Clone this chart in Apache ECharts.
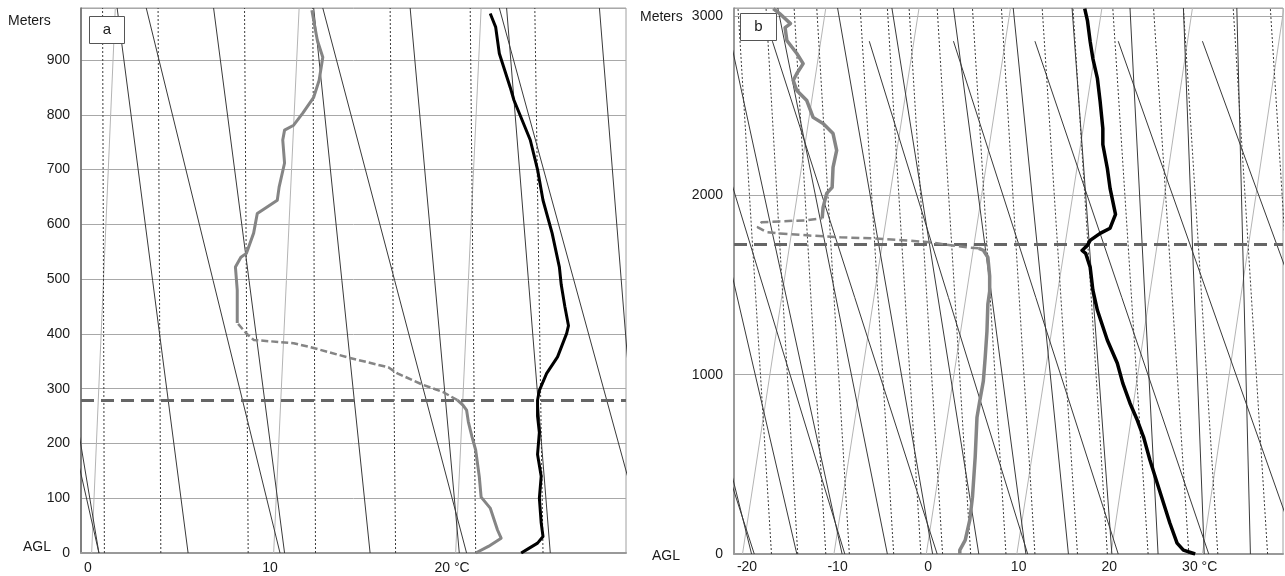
<!DOCTYPE html>
<html><head><meta charset="utf-8">
<script src="https://cdn.jsdelivr.net/npm/echarts@6/dist/echarts.min.js"></script>
<style>html,body{margin:0;padding:0;background:#fff}#c{width:1285px;height:576px}</style>
</head><body><div id="c"></div>
<script>
// ---------- tick labels ----------
const aXTicks = [0, 10, 20];
const aYTicks = [0, 100, 200, 300, 400, 500, 600, 700, 800, 900];
const bXTicks = [-20, -10, 0, 10, 20, 30];
const bYTicks = [0, 1000, 2000, 3000];

// ---------- panel a background lines (T at 0 m, T at top) ----------
const aTopH = 995;
const aIsoBottom = [0.2, 10.2, 20.2];
const aIsoTop = [1.5, 11.6, 21.6];
const aDryBottom = [0.6, 10.55, 20.8, 30.8];
const aDryTop = [-6.2, 3.2, 12.9, 22.6];
const aMoistBottom = [0.6, 5.5, 10.8, 15.5, 20.4, 25.4, 30.5];
const aMoistTop = [-4.4, 1.6, 6.9, 12.4, 17.7, 23.0, 28.1];
const aMixBottom = [0.9, 4.0, 8.8, 12.5, 16.9, 21.3, 25.0];
const aMixTop = [0.8, 3.85, 8.6, 12.35, 16.6, 21.0, 24.55];
const aInversion = 279;

// ---------- panel a profiles [T, height] ----------
const aTemp = [[23.8,0],[24.2,8],[24.7,18],[25.0,30],[24.9,55],[24.8,100],[24.9,140],[24.7,180],[24.8,220],[24.7,250],[24.7,279],[24.8,297],[25.2,328],[25.8,358],[26.3,401],[26.4,415],[26.2,450],[26.0,490],[25.9,522],[25.5,584],[25.0,644],[24.7,700],[24.3,754],[23.4,827],[23.2,850],[22.6,912],[22.4,960],[22.1,985]];
const aDewLow = [[21.3,0],[22.0,12],[22.7,27],[22.5,42],[22.1,82],[21.6,102],[21.5,139],[21.3,188],[21.1,212],[20.9,239],[20.8,261],[20.6,270],[20.3,279]];
const aDewMid = [[20.3,279],[19.5,294],[18.4,307],[17.0,328],[16.5,339],[14.4,356],[12.2,376],[11.3,383],[9.1,389],[8.7,401],[8.2,420]];
const aDewHigh = [[8.2,420],[8.2,480],[8.1,522],[8.4,540],[8.7,547],[9.1,584],[9.3,620],[9.8,631],[10.4,644],[10.5,668],[10.8,712],[10.7,754],[10.8,772],[11.3,781],[11.8,803],[12.4,832],[12.7,863],[12.9,905],[12.6,936],[12.5,954],[12.3,991]];

// ---------- panel b background lines ----------
const bTopH = 3045;
const bDryTopH = 2860;
const bIsoBottom = [-20.5, -10.4, -0.2, 9.8, 20.2, 30.3];
const bIsoTop = [-11.3, -1.0, 9.1, 19.2, 29.2, 39.3];
const bDryBottom = [-19.2, -9.2, 1.0, 11.0, 21.0, 31.0, 41.0, 51.0];
const bDryTop = [-37.5, -26.5, -17.2, -6.5, 2.8, 11.8, 21.0, 30.3];
const bMoistBottom = [-19.5, -14.5, -9.5, -4.5, 0.5, 5.6, 10.8, 15.5, 20.3, 25.4, 30.5, 35.6];
const bMoistTop = [-34.5, -28.5, -22.6, -16.6, -10.0, -4.0, 2.8, 9.4, 15.9, 22.3, 28.2, 34.1];
const bMixBottom = [-17.3, -14.4, -11.3, -8.7, -3.8, -0.8, 1.6, 4.7, 8.6, 11.8, 16.5, 19.8, 24.3, 28.8, 32.0, 37.5, 41.6];
const bMixTop = [-21.0, -17.9, -14.8, -12.3, -7.5, -4.5, -2.1, 1.0, 4.9, 8.1, 12.6, 16.0, 20.4, 24.9, 28.2, 33.7, 37.8];
const bInversion = 1725;

// ---------- panel b profiles ----------
const bTemp = [[29.5,0],[28.2,22],[27.5,61],[26.7,173],[26.0,284],[25.3,396],[24.5,524],[23.8,652],[23.1,747],[22.3,841],[21.5,953],[20.9,1064],[19.8,1192],[18.7,1359],[18.2,1471],[17.9,1599],[17.4,1677],[17.0,1693],[17.6,1721],[17.9,1749],[19.0,1788],[20.1,1817],[20.7,1894],[20.4,1967],[20.1,2039],[19.8,2150],[19.3,2284],[19.3,2373],[19.0,2524],[18.7,2652],[18.2,2763],[17.9,2858],[17.6,2975],[17.3,3042]];
const bDewLow = [[3.5,0],[3.5,22],[4.1,77],[4.6,189],[4.9,317],[5.2,540],[5.4,763],[5.7,852],[6.1,964],[6.3,1092],[6.5,1242],[6.6,1393],[6.8,1465],[6.8,1550],[6.6,1655],[6.1,1694],[5.6,1705]];
const bDewMid = [[5.6,1705],[4.3,1710],[0.2,1738],[-2.3,1749],[-6.1,1760],[-9.7,1766],[-13.4,1777],[-16.4,1788],[-17.8,1794],[-18.8,1822],[-18.4,1850],[-16.4,1855],[-13.4,1861],[-11.7,1872]];
const bDewHigh = [[-11.7,1872],[-11.6,1933],[-11.2,2011],[-10.6,2045],[-10.5,2156],[-10.1,2251],[-10.5,2345],[-11.6,2401],[-12.7,2435],[-13.4,2529],[-14.5,2585],[-14.9,2641],[-14.5,2680],[-13.8,2735],[-14.5,2791],[-15.6,2864],[-15.8,2936],[-15.2,2958],[-16.4,3014],[-17.1,3042]];

const FONT = 'Liberation Sans, Arial, Helvetica, sans-serif';
const TXT = '#1a1a1a';

function family(gi, bottoms, tops, topH, style) {
  return bottoms.map((b, i) => ({
    type: 'line', xAxisIndex: gi, yAxisIndex: gi, data: [[b, 0], [tops[i], topH]],
    symbol: 'none', silent: true, z: 2, clip: true, animation: false, lineStyle: style
  }));
}
const isoStyle = { color: '#b4b4b4', width: 1 };
const adiaStyle = { color: '#3a3a3a', width: 1 };
const mixStyle = { color: '#3a3a3a', width: 1, type: [2, 2] };

function profile(gi, data, color, width, dash) {
  return { type: 'line', xAxisIndex: gi, yAxisIndex: gi, data: data, symbol: 'none', silent: true,
    z: 6, clip: true, animation: false, lineStyle: { color: color, width: width, type: dash || 'solid', join: 'round' } };
}
function inversion(gi, h) {
  return { type: 'line', xAxisIndex: gi, yAxisIndex: gi, data: [], silent: true, z: 4,
    markLine: { silent: true, symbol: 'none', animation: false, label: { show: false },
      lineStyle: { color: '#666', width: 3, type: [13, 7] }, data: [{ yAxis: h }] } };
}

const series = [].concat(
  family(0, aIsoBottom, aIsoTop, aTopH, isoStyle),
  family(0, aDryBottom, aDryTop, aTopH, adiaStyle),
  family(0, aMoistBottom, aMoistTop, aTopH, adiaStyle),
  family(0, aMixBottom, aMixTop, aTopH, mixStyle),
  family(1, bIsoBottom, bIsoTop, bTopH, isoStyle),
  family(1, bDryBottom, bDryTop, bDryTopH, adiaStyle),
  family(1, bMoistBottom, bMoistTop, bTopH, adiaStyle),
  family(1, bMixBottom, bMixTop, bTopH, mixStyle),
  [inversion(0, aInversion), inversion(1, bInversion),
   profile(0, aDewLow, '#858585', 3), profile(0, aDewMid, '#858585', 2.5, [7, 3]), profile(0, aDewHigh, '#858585', 3),
   profile(0, aTemp, '#000', 3),
   profile(1, bDewLow, '#858585', 3.5), profile(1, bDewMid, '#858585', 2.5, [8, 4]), profile(1, bDewHigh, '#858585', 3.5),
   profile(1, bTemp, '#000', 3.5)]
);

const labelBase = { color: TXT, fontSize: 14, fontFamily: FONT };
const option = {
  animation: false,
  backgroundColor: '#fff',
  grid: [
    { left: 81, top: 8, width: 545, height: 545, show: true, borderColor: '#a0a0a0', borderWidth: 1 },
    { left: 734, top: 8, width: 549, height: 546, show: true, borderColor: '#a0a0a0', borderWidth: 1 }
  ],
  xAxis: [
    { gridIndex: 0, type: 'value', min: -0.385, max: 29.56, splitLine: { show: false },
      axisLine: { show: true, onZero: false, lineStyle: { color: '#999', width: 2 } }, axisTick: { show: false },
      axisLabel: Object.assign({ customValues: aXTicks, margin: 8, formatter: v => v === 20 ? '20 °C' : String(v) }, labelBase) },
    { gridIndex: 1, type: 'value', min: -21.44, max: 39.2, splitLine: { show: false },
      axisLine: { show: true, onZero: false, lineStyle: { color: '#999', width: 2 } }, axisTick: { show: false },
      axisLabel: Object.assign({ customValues: bXTicks, margin: 6, formatter: v => v === 30 ? '30 °C' : String(v) }, labelBase) }
  ],
  yAxis: [
    { gridIndex: 0, type: 'value', min: 0, max: 995, interval: 100,
      splitLine: { show: true, lineStyle: { color: '#a8a8a8', width: 1 } },
      axisLine: { show: true, onZero: false, lineStyle: { color: '#666', width: 1.5 } }, axisTick: { show: false },
      axisLabel: Object.assign({ customValues: aYTicks, margin: 11, formatter: v => String(v) }, labelBase) },
    { gridIndex: 1, type: 'value', min: 0, max: 3045, interval: 1000,
      splitLine: { show: true, lineStyle: { color: '#a8a8a8', width: 1 } },
      axisLine: { show: true, onZero: false, lineStyle: { color: '#888', width: 1.5 } }, axisTick: { show: false },
      axisLabel: Object.assign({ customValues: bYTicks, margin: 11, formatter: v => String(v) }, labelBase) }
  ],
  graphic: [
    { type: 'text', z: 100, left: 8, top: 14, style: { text: 'Meters', fill: TXT, font: '14px ' + FONT } },
    { type: 'text', z: 100, left: 23, top: 540, style: { text: 'AGL', fill: TXT, font: '14px ' + FONT } },
    { type: 'text', z: 100, left: 640, top: 10, style: { text: 'Meters', fill: TXT, font: '14px ' + FONT } },
    { type: 'text', z: 100, left: 652, top: 549, style: { text: 'AGL', fill: TXT, font: '14px ' + FONT } },
    { type: 'rect', z: 100, shape: { x: 89.5, y: 16.5, width: 35, height: 27 }, style: { fill: '#fff', stroke: '#555', lineWidth: 1 } },
    { type: 'text', z: 101, x: 107, y: 30, style: { text: 'a', fill: TXT, font: '15px ' + FONT, align: 'center', verticalAlign: 'middle' } },
    { type: 'rect', z: 100, shape: { x: 740.5, y: 13.5, width: 36, height: 27 }, style: { fill: '#fff', stroke: '#555', lineWidth: 1 } },
    { type: 'text', z: 101, x: 758.5, y: 27, style: { text: 'b', fill: TXT, font: '15px ' + FONT, align: 'center', verticalAlign: 'middle' } }
  ],
  series: series
};
const chart = echarts.init(document.getElementById('c'), null, { renderer: 'canvas' });
chart.setOption(option);
</script></body></html>
